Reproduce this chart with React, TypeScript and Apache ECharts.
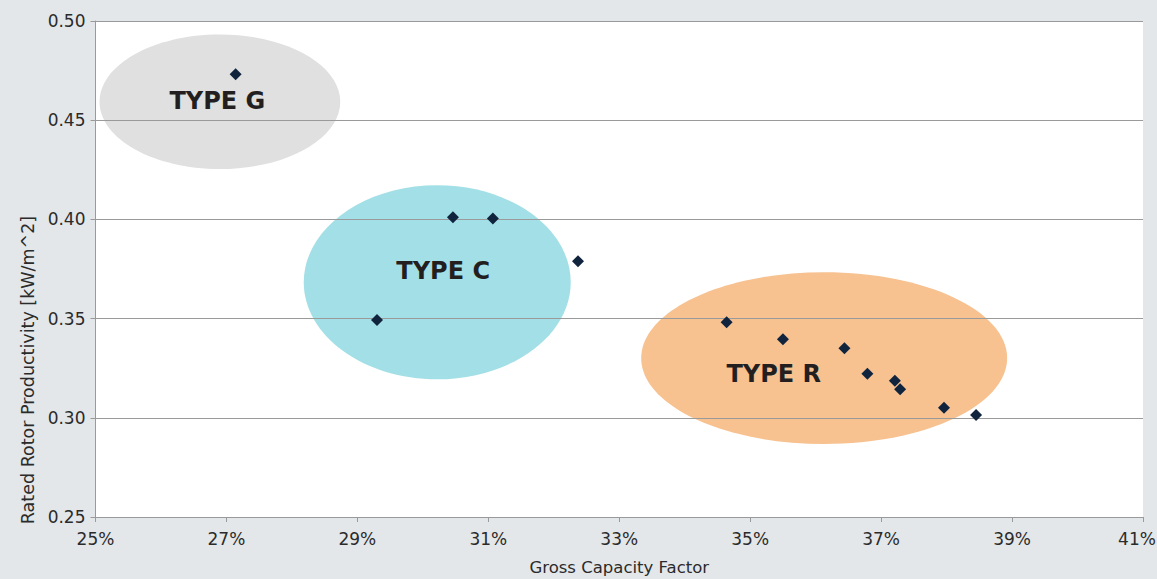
import React, { useEffect, useRef } from "react";
import * as echarts from "echarts";

// Scatter points: gross capacity factor (%) and rated rotor productivity (kW/m^2)
const capacityFactor = [27.14, 30.46, 31.07, 32.37, 29.3, 34.64, 35.5, 36.44, 36.79, 37.21, 37.29, 37.96, 38.45];
const productivity = [0.4731, 0.4011, 0.4004, 0.3789, 0.3493, 0.3481, 0.3396, 0.335, 0.3222, 0.3187, 0.3144, 0.3051, 0.3014];

// Group ellipses (center x, center y, radius x, radius y) and their labels
const groupNames = ["TYPE G", "TYPE C", "TYPE R"];
const groupCx = [26.9, 30.22, 36.13];
const groupCy = [0.4593, 0.3683, 0.3301];
const groupRx = [1.838, 2.039, 2.795];
const groupRy = [0.0339, 0.0489, 0.0433];
const labelX = [26.86, 30.31, 35.36];
const labelY = [0.4597, 0.3741, 0.3221];
const groupColors = ["#e0e0e0", "#a3dfe6", "#f7c190"];

const xTicks = { min: 25, max: 41, interval: 2 };
const yTicks = { min: 0.25, max: 0.5, interval: 0.05 };

export default function App() {
  const ref = useRef<HTMLDivElement>(null);
  useEffect(() => {
    document.body.style.margin = "0";
    const chart = echarts.init(ref.current!, null, { renderer: "svg" });
    const font = "DejaVu Sans";
    const labelColor = "#2b2b2b";
    const axisGray = "#9a9a9a";
    const ellipseData = groupNames.map((n, i) => [
      groupCx[i], groupCy[i], groupRx[i], groupRy[i], labelX[i], labelY[i], i,
    ]);
    const tickStyle = { fontFamily: font, fontSize: 17, color: labelColor };
    chart.setOption({
      animation: false,
      backgroundColor: "#e3e7ea",
      grid: {
        left: 95.5,
        right: 14,
        top: 21,
        bottom: 62,
        show: true,
        backgroundColor: "#ffffff",
        borderWidth: 0,
        containLabel: false,
        outerBoundsMode: "none",
        z: -2,
      },
      xAxis: {
        type: "value",
        min: xTicks.min,
        max: xTicks.max,
        interval: xTicks.interval,
        name: "Gross Capacity Factor",
        nameLocation: "middle",
        nameGap: 42,
        nameTextStyle: { fontFamily: font, fontSize: 16.5, color: labelColor },
        axisLine: { show: true, lineStyle: { color: axisGray, width: 1 } },
        axisTick: { show: true, length: 5, lineStyle: { color: axisGray } },
        axisLabel: {
          formatter: (v: number) =>
            v === xTicks.max ? "{last|" + v + "%}" : "{n|" + v + "%}",
          rich: {
            n: { ...tickStyle },
            last: { ...tickStyle, padding: [0, 12, 0, 0] },
          },
          ...tickStyle,
          margin: 13,
        },
        splitLine: { show: false },
      },
      yAxis: {
        type: "value",
        min: yTicks.min,
        max: yTicks.max,
        interval: yTicks.interval,
        axisLine: { show: true, lineStyle: { color: axisGray, width: 1 } },
        axisTick: { show: true, length: 5, lineStyle: { color: axisGray } },
        axisLabel: {
          formatter: (v: number) => v.toFixed(2),
          ...tickStyle,
          margin: 10,
        },
        splitLine: { show: true, lineStyle: { color: axisGray, width: 1 } },
      },
      graphic: [
        {
          type: "text",
          x: 27.5,
          y: 370,
          rotation: Math.PI / 2,
          style: {
            text: "Rated Rotor Productivity [kW/m^2]",
            fontFamily: font,
            fontSize: 17.5,
            fill: labelColor,
            align: "center",
            verticalAlign: "middle",
          },
        },
      ],
      series: [
        {
          type: "custom",
          z: -1,
          silent: true,
          clip: true,
          data: ellipseData,
          encode: { x: 0, y: 1 },
          renderItem: (params: any, api: any) => {
            const c = api.coord([api.value(0), api.value(1)]);
            const s = api.size([api.value(2), api.value(3)]);
            const l = api.coord([api.value(4), api.value(5)]);
            const idx = api.value(6);
            return {
              type: "group",
              children: [
                {
                  type: "ellipse",
                  shape: { cx: c[0], cy: c[1], rx: s[0], ry: s[1] },
                  style: { fill: groupColors[idx] },
                },
                {
                  type: "text",
                  x: l[0],
                  y: l[1],
                  style: {
                    text: groupNames[idx],
                    fontFamily: font,
                    fontWeight: "bold",
                    fontSize: 24,
                    fill: "#231f20",
                    align: "center",
                    verticalAlign: "middle",
                  },
                },
              ],
            };
          },
        },
        {
          type: "scatter",
          symbol: "diamond",
          symbolSize: 12,
          itemStyle: { color: "#10243e", opacity: 1 },
          data: capacityFactor.map((x, i) => [x, productivity[i]]),
          z: 3,
        },
      ],
    });
    return () => chart.dispose();
  }, []);
  return <div ref={ref} style={{ width: 1157, height: 579 }} />;
}
